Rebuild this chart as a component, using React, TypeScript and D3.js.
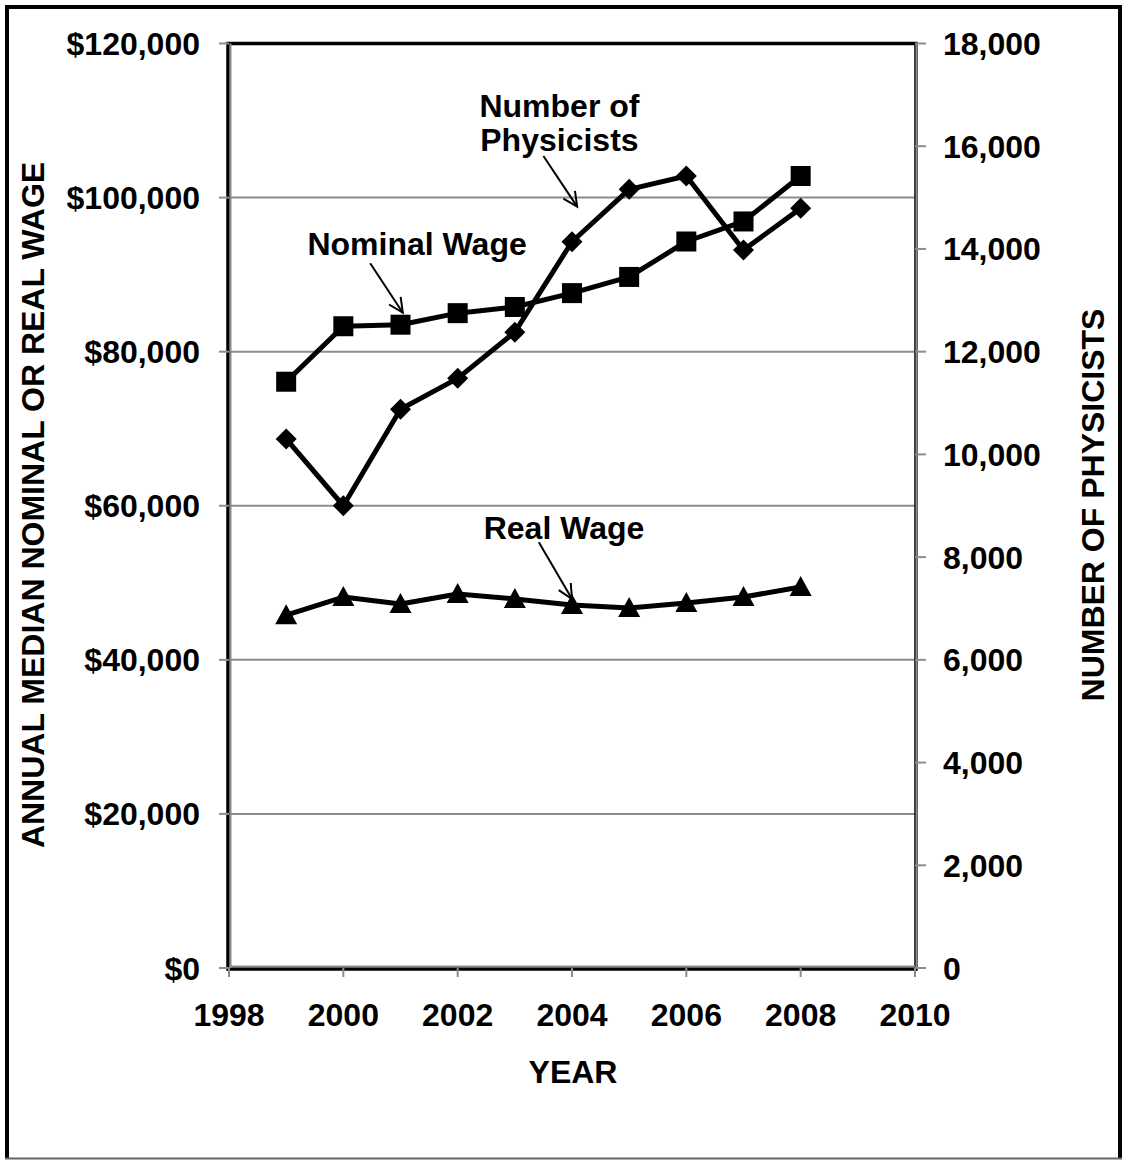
import React from "react";
import * as d3 from "d3";

const years = [1999, 2000, 2001, 2002, 2003, 2004, 2005, 2006, 2007, 2008];
const nominalWage = [76100, 83300, 83500, 85000, 85800, 87600, 89700, 94300, 96900, 102800];
const physicists = [10300, 9000, 10880, 11480, 12380, 14140, 15160, 15420, 13980, 14790];
const realWage = [45800, 48150, 47250, 48550, 47900, 47120, 46730, 47380, 48160, 49450];

const xTicks = [1998, 2000, 2002, 2004, 2006, 2008, 2010];
const leftTicks = [0, 20000, 40000, 60000, 80000, 100000, 120000];
const rightTicks = [0, 2000, 4000, 6000, 8000, 10000, 12000, 14000, 16000, 18000];

// annotations in data units (year, left-axis value)
const annotations = [
  { lines: ["Nominal Wage"], tx: 2001.29, ty: 92550, from: [2000.47, 91470], to: [2001.04, 85060] },
  { lines: ["Number of", "Physicists"], tx: 2003.78, ty: 110500, from: [2003.5, 105400], to: [2004.09, 98820] },
  { lines: ["Real Wage"], tx: 2003.86, ty: 55645, from: [2003.42, 55255], to: [2004.0, 47900] },
];

const W = 1128, H = 1160;
const L = 229, R = 915, T = 43.5, B = 968;
const FONT = "'Liberation Sans', Arial, Helvetica, sans-serif";
const FS = 32;

export default function App() {
  const x = d3.scaleLinear().domain([1998, 2010]).range([L, R]);
  const yL = d3.scaleLinear().domain([0, 120000]).range([B, T]);
  const yR = d3.scaleLinear().domain([0, 18000]).range([B, T]);
  const fmtL = (v: number) => "$" + d3.format(",")(v);
  const fmtR = (v: number) => d3.format(",")(v);

  const lineL = d3.line<number>().x((_, i) => x(years[i])).y((d) => yL(d));
  const lineR = d3.line<number>().x((_, i) => x(years[i])).y((d) => yR(d));

  const arrowHead = (fx: number, fy: number, tx: number, ty: number) => {
    const a = Math.atan2(ty - fy, tx - fx);
    const len = 16, spread = 0.45;
    const p1 = [tx - len * Math.cos(a - spread), ty - len * Math.sin(a - spread)];
    const p2 = [tx - len * Math.cos(a + spread), ty - len * Math.sin(a + spread)];
    return `M${p1[0]},${p1[1]}L${tx},${ty}L${p2[0]},${p2[1]}`;
  };

  return (
    <svg width={W} height={H} style={{ position: "absolute", left: 0, top: 0, background: "#fff" }}
      fontFamily={FONT} fontWeight="bold">
      {/* outer border */}
      <line x1={5} y1={7} x2={1122} y2={7} stroke="#000" strokeWidth={4} />
      <line x1={7} y1={5} x2={7} y2={1158} stroke="#000" strokeWidth={4} />
      <line x1={1120} y1={5} x2={1120} y2={1158} stroke="#000" strokeWidth={4} />
      <line x1={5} y1={1158.5} x2={1122} y2={1158.5} stroke="#666" strokeWidth={2} />

      {/* gridlines */}
      {leftTicks.filter((t) => t > 0 && t < 120000).map((t) => (
        <line key={"g" + t} x1={L} x2={R} y1={yL(t)} y2={yL(t)} stroke="#8c8c8c" strokeWidth={2} />
      ))}

      {/* plot frame */}
      <rect x={L - 1} y={T} width={R - L + 2} height={B - T + 1} fill="none" stroke="#000" strokeWidth={3.5} />
      <line x1={L + 1.5} x2={L + 1.5} y1={T} y2={B} stroke="#8c8c8c" strokeWidth={2} />
      <line x1={L} x2={R} y1={B - 1.5} y2={B - 1.5} stroke="#8c8c8c" strokeWidth={2} />
      <line x1={R + 1.5} x2={R + 1.5} y1={T} y2={B} stroke="#8c8c8c" strokeWidth={2} />

      {/* left ticks */}
      {leftTicks.map((t) => (
        <g key={"l" + t}>
          <line x1={L - 10} x2={L} y1={yL(t)} y2={yL(t)} stroke="#8c8c8c" strokeWidth={2} />
          <text x={200} y={yL(t)} dy="0.36em" textAnchor="end" fontSize={FS}>{fmtL(t)}</text>
        </g>
      ))}
      {/* right ticks */}
      {rightTicks.map((t) => (
        <g key={"r" + t}>
          <line x1={R} x2={R + 11} y1={yR(t)} y2={yR(t)} stroke="#8c8c8c" strokeWidth={2} />
          <text x={943} y={yR(t)} dy="0.36em" textAnchor="start" fontSize={FS}>{fmtR(t)}</text>
        </g>
      ))}
      {/* x ticks */}
      {xTicks.map((t) => (
        <g key={"x" + t}>
          <line x1={x(t)} x2={x(t)} y1={B} y2={B + 9} stroke="#8c8c8c" strokeWidth={2} />
          <text x={x(t)} y={1026} textAnchor="middle" fontSize={FS}>{t}</text>
        </g>
      ))}

      {/* axis titles */}
      <text x={573} y={1083} textAnchor="middle" fontSize={FS}>YEAR</text>
      <text transform={`translate(44,505) rotate(-90)`} textAnchor="middle" fontSize={FS}>
        ANNUAL MEDIAN NOMINAL OR REAL WAGE
      </text>
      <text transform={`translate(1104,505) rotate(-90)`} textAnchor="middle" fontSize={FS}>
        NUMBER OF PHYSICISTS
      </text>

      {/* series lines */}
      <path d={lineL(nominalWage) || ""} fill="none" stroke="#000" strokeWidth={5} strokeLinejoin="round" />
      <path d={lineR(physicists) || ""} fill="none" stroke="#000" strokeWidth={5} strokeLinejoin="round" />
      <path d={lineL(realWage) || ""} fill="none" stroke="#000" strokeWidth={5} strokeLinejoin="round" />

      {/* markers */}
      {nominalWage.map((v, i) => (
        <rect key={"n" + i} x={x(years[i]) - 10} y={yL(v) - 10} width={20} height={20} fill="#000" />
      ))}
      {physicists.map((v, i) => {
        const cx = x(years[i]), cy = yR(v), r = 10.5;
        return <path key={"p" + i} d={`M${cx},${cy - r}L${cx + r},${cy}L${cx},${cy + r}L${cx - r},${cy}Z`} fill="#000" />;
      })}
      {realWage.map((v, i) => {
        const cx = x(years[i]), cy = yL(v);
        return <path key={"w" + i} d={`M${cx},${cy - 11}L${cx + 11},${cy + 9}L${cx - 11},${cy + 9}Z`} fill="#000" />;
      })}

      {/* annotations */}
      {annotations.map((a, k) => {
        const fx = x(a.from[0]), fy = yL(a.from[1]), tx = x(a.to[0]), ty = yL(a.to[1]);
        return (
          <g key={"a" + k}>
            {a.lines.map((ln, j) => (
              <text key={j} x={x(a.tx)} y={yL(a.ty) + j * 34} textAnchor="middle" fontSize={FS}>{ln}</text>
            ))}
            <line x1={fx} y1={fy} x2={tx} y2={ty} stroke="#000" strokeWidth={2} />
            <path d={arrowHead(fx, fy, tx, ty)} fill="none" stroke="#000" strokeWidth={2} />
          </g>
        );
      })}
    </svg>
  );
}
